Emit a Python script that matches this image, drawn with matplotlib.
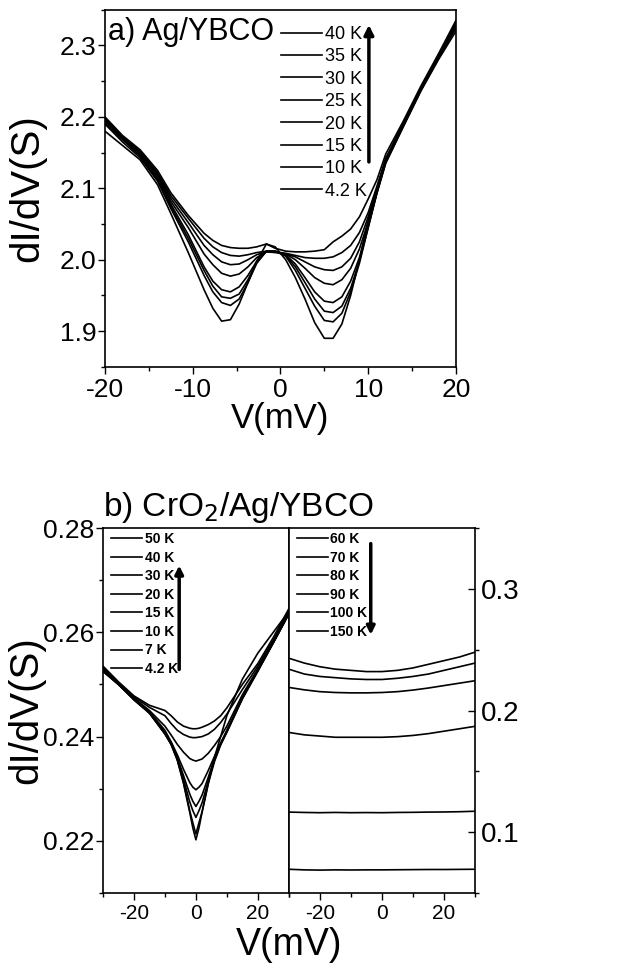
import matplotlib
matplotlib.use("Agg")
import matplotlib.pyplot as plt
from matplotlib.ticker import MultipleLocator

plt.rcParams['font.family'] = ['Liberation Sans', 'DejaVu Sans']
plt.rcParams['axes.unicode_minus'] = False

# ---- panel a) Ag/YBCO ----
va = [-20, -18, -16, -14, -12.5, -10.5, -8.7, -7.7, -6.7, -5.7, -4.7, -3.7, -2.7, -1.6, -0.6, 0.6, 1.7, 2.8, 3.9,
      5, 6, 7, 8, 9, 10, 11, 12, 14, 16, 18, 20]
temps_a = ["40 K", "35 K", "30 K", "25 K", "20 K", "15 K", "10 K", "4.2 K"]
g_40 = [2.200, 2.174, 2.154, 2.125, 2.094, 2.062, 2.037, 2.027, 2.020, 2.017, 2.016, 2.016, 2.018, 2.022, 2.016, 2.012,
        2.011, 2.011, 2.012, 2.014, 2.025, 2.033, 2.043, 2.060, 2.085, 2.112, 2.148, 2.194, 2.243, 2.288, 2.335]
g_35 = [2.198, 2.172, 2.152, 2.122, 2.090, 2.058, 2.030, 2.018, 2.010, 2.006, 2.005, 2.007, 2.010, 2.012, 2.011, 2.009,
        2.006, 2.003, 2.002, 2.002, 2.004, 2.010, 2.020, 2.038, 2.066, 2.103, 2.142, 2.191, 2.240, 2.285, 2.332]
g_30 = [2.196, 2.170, 2.150, 2.120, 2.086, 2.052, 2.020, 2.007, 1.997, 1.993, 1.994, 2.000, 2.007, 2.011, 2.010, 2.008,
        2.004, 1.997, 1.990, 1.986, 1.985, 1.990, 2.002, 2.025, 2.060, 2.099, 2.140, 2.190, 2.240, 2.286, 2.330]
g_25 = [2.198, 2.172, 2.148, 2.118, 2.082, 2.045, 2.008, 1.993, 1.981, 1.977, 1.980, 1.990, 2.003, 2.011, 2.011, 2.008,
        2.000, 1.988, 1.975, 1.967, 1.965, 1.972, 1.988, 2.015, 2.053, 2.096, 2.138, 2.188, 2.238, 2.284, 2.328]
g_20 = [2.192, 2.168, 2.146, 2.115, 2.078, 2.035, 1.990, 1.970, 1.958, 1.955, 1.962, 1.978, 1.998, 2.012, 2.012, 2.007,
        1.994, 1.975, 1.955, 1.942, 1.940, 1.948, 1.970, 2.003, 2.048, 2.094, 2.136, 2.187, 2.237, 2.282, 2.325]
g_15 = [2.195, 2.170, 2.145, 2.112, 2.075, 2.030, 1.985, 1.963, 1.948, 1.946, 1.952, 1.972, 1.996, 2.012, 2.012, 2.006,
        1.990, 1.968, 1.945, 1.928, 1.926, 1.935, 1.960, 1.998, 2.045, 2.093, 2.135, 2.186, 2.236, 2.280, 2.320]
g_10 = [2.190, 2.165, 2.143, 2.110, 2.072, 2.025, 1.978, 1.955, 1.940, 1.936, 1.945, 1.968, 1.995, 2.012, 2.012, 2.005,
        1.985, 1.960, 1.935, 1.915, 1.913, 1.925, 1.955, 1.995, 2.045, 2.095, 2.138, 2.188, 2.238, 2.282, 2.325]
g_4 = [2.180, 2.160, 2.140, 2.105, 2.065, 2.010, 1.958, 1.932, 1.914, 1.916, 1.938, 1.968, 1.998, 2.022, 2.018, 2.000,
       1.975, 1.945, 1.912, 1.890, 1.890, 1.910, 1.950, 2.000, 2.055, 2.100, 2.140, 2.190, 2.240, 2.285, 2.330]
curves_a = [g_40, g_35, g_30, g_25, g_20, g_15, g_10, g_4]

# ---- panel b) CrO2/Ag/YBCO, low temperatures (left axis) ----
vb = [-30, -25, -20, -15, -10, -8, -6, -4, -2, -1, 0, 1, 2, 4, 6, 8, 10, 15, 20, 25, 30]
temps_bl = ["50 K", "40 K", "30 K", "20 K", "15 K", "10 K", "7 K", "4.2 K"]
b_50 = [0.2535, 0.2505, 0.2478, 0.2460, 0.2450, 0.2440, 0.2428, 0.2420, 0.2416, 0.2415, 0.2415, 0.2416, 0.2418,
        0.2423, 0.2430, 0.2440, 0.2455, 0.2500, 0.2540, 0.2590, 0.2645]
b_40 = [0.2532, 0.2503, 0.2476, 0.2456, 0.2440, 0.2425, 0.2412, 0.2404, 0.2399, 0.2398, 0.2398, 0.2399, 0.2400,
        0.2405, 0.2414, 0.2427, 0.2443, 0.2490, 0.2535, 0.2585, 0.2640]
b_30 = [0.2530, 0.2500, 0.2474, 0.2450, 0.2420, 0.2403, 0.2385, 0.2370, 0.2358, 0.2355, 0.2353, 0.2355, 0.2357,
        0.2368, 0.2383, 0.2400, 0.2420, 0.2480, 0.2530, 0.2582, 0.2638]
b_20 = [0.2528, 0.2500, 0.2473, 0.2448, 0.2412, 0.2390, 0.2365, 0.2337, 0.2312, 0.2303, 0.2298, 0.2303, 0.2310,
        0.2335, 0.2362, 0.2388, 0.2412, 0.2475, 0.2528, 0.2580, 0.2636]
b_15 = [0.2527, 0.2500, 0.2472, 0.2446, 0.2408, 0.2388, 0.2360, 0.2325, 0.2290, 0.2276, 0.2266, 0.2276, 0.2288,
        0.2322, 0.2358, 0.2386, 0.2410, 0.2474, 0.2527, 0.2580, 0.2635]
b_10 = [0.2526, 0.2500, 0.2472, 0.2445, 0.2406, 0.2386, 0.2357, 0.2318, 0.2275, 0.2258, 0.2245, 0.2258, 0.2273,
        0.2315, 0.2355, 0.2385, 0.2410, 0.2473, 0.2526, 0.2580, 0.2635]
b_7 = [0.2525, 0.2500, 0.2471, 0.2445, 0.2405, 0.2385, 0.2355, 0.2312, 0.2258, 0.2235, 0.2213, 0.2235, 0.2256,
       0.2310, 0.2352, 0.2384, 0.2408, 0.2472, 0.2525, 0.2580, 0.2635]
b_4 = [0.2525, 0.2500, 0.2470, 0.2445, 0.2405, 0.2385, 0.2355, 0.2310, 0.2255, 0.2225, 0.2202, 0.2225, 0.2255,
       0.2310, 0.2360, 0.2400, 0.2440, 0.2510, 0.2560, 0.2600, 0.2640]
curves_bl = [b_50, b_40, b_30, b_20, b_15, b_10, b_7, b_4]

# ---- panel b) high temperatures (right axis) ----
vc = [-30, -25, -20, -15, -10, -5, 0, 5, 10, 15, 20, 25, 30]
temps_br = ["60 K", "70 K", "80 K", "90 K", "100 K", "150 K"]
c_60 = [0.243, 0.239, 0.236, 0.234, 0.233, 0.232, 0.232, 0.233, 0.235, 0.238, 0.241, 0.244, 0.248]
c_70 = [0.234, 0.230, 0.228, 0.227, 0.226, 0.2255, 0.2255, 0.2265, 0.228, 0.230, 0.233, 0.236, 0.239]
c_80 = [0.219, 0.217, 0.2155, 0.2148, 0.2145, 0.2145, 0.2148, 0.2155, 0.2168, 0.2185, 0.2205, 0.2225, 0.2245]
c_90 = [0.182, 0.180, 0.179, 0.178, 0.178, 0.178, 0.178, 0.1785, 0.1795, 0.181, 0.183, 0.185, 0.187]
c_100 = [0.1165, 0.1162, 0.1160, 0.1162, 0.1160, 0.1161, 0.1160, 0.1162, 0.1163, 0.1165, 0.1166, 0.1168, 0.1172]
c_150 = [0.0695, 0.0690, 0.0688, 0.0690, 0.0689, 0.0690, 0.0690, 0.0691, 0.0692, 0.0693, 0.0693, 0.0694, 0.0695]
curves_br = [c_60, c_70, c_80, c_90, c_100, c_150]

fig = plt.figure(figsize=(6.17, 9.68), dpi=100)


def style_axis(ax, size):
    ax.tick_params(which='both', direction='out', width=1, labelsize=size, pad=1)
    ax.tick_params(which='major', length=5)
    ax.tick_params(which='minor', length=3)
    for s in ax.spines.values():
        s.set_linewidth(1.2)


# panel a
ax1 = fig.add_axes([0.170, 0.621, 0.569, 0.369])
for g, lab in zip(curves_a, temps_a):
    ax1.plot(va, g, color='k', lw=1.2, label=lab)
ax1.set_xlim(-20, 20)
ax1.set_ylim(1.85, 2.35)
ax1.xaxis.set_major_locator(MultipleLocator(10))
ax1.xaxis.set_minor_locator(MultipleLocator(5))
ax1.yaxis.set_major_locator(MultipleLocator(0.1))
ax1.yaxis.set_minor_locator(MultipleLocator(0.05))
ax1.yaxis.set_major_formatter(lambda v, p: f"{v:.1f}")
style_axis(ax1, 19)
ax1.tick_params(axis='x', pad=3)
ax1.set_xlabel("V(mV)", fontsize=25, labelpad=0)
ax1.set_ylabel("dI/dV(S)", fontsize=29)
ax1.yaxis.set_label_coords(-0.168, 0.5)
ax1.text(0.01, 0.98, "a) Ag/YBCO", transform=ax1.transAxes, fontsize=22, va='top', ha='left')
ax1.legend(loc='upper left', bbox_to_anchor=(0.47, 0.985), frameon=False, fontsize=13,
           handlelength=2.3, handletextpad=0.15, labelspacing=0.3, borderpad=0.1)
ax1.annotate('', xy=(0.752, 0.965), xytext=(0.752, 0.566), xycoords='axes fraction',
             arrowprops=dict(arrowstyle='-|>', lw=2.5, color='k', mutation_scale=14))

# panel b, left
ax2 = fig.add_axes([0.167, 0.0775, 0.301, 0.377])
for g, lab in zip(curves_bl, temps_bl):
    ax2.plot(vb, g, color='k', lw=1.2, label=lab)
ax2.set_xlim(-30, 30)
ax2.set_ylim(0.21, 0.28)
ax2.xaxis.set_major_locator(MultipleLocator(20))
ax2.xaxis.set_minor_locator(MultipleLocator(10))
ax2.yaxis.set_major_locator(MultipleLocator(0.02))
ax2.yaxis.set_minor_locator(MultipleLocator(0.01))
ax2.yaxis.set_major_formatter(lambda v, p: f"{v:.2f}")
style_axis(ax2, 19)
ax2.tick_params(axis='x', labelsize=15, pad=3)
ax2.set_ylabel("dI/dV(S)", fontsize=29)
ax2.yaxis.set_label_coords(-0.312, 0.5)
ax2.legend(loc='upper left', bbox_to_anchor=(0.0, 1.012), frameon=False,
           prop=dict(size=10, weight='bold'), handlelength=2.2, handletextpad=0.2,
           labelspacing=0.33, borderpad=0.1)
ax2.annotate('', xy=(0.41, 0.905), xytext=(0.41, 0.605), xycoords='axes fraction',
             arrowprops=dict(arrowstyle='-|>', lw=2.5, color='k', mutation_scale=12))
ax2.text(0.0, 1.008, r"b) CrO$_2$/Ag/YBCO", transform=ax2.transAxes, fontsize=24, va='bottom', ha='left')

# panel b, right
ax3 = fig.add_axes([0.468, 0.0775, 0.302, 0.377])
for g, lab in zip(curves_br, temps_br):
    ax3.plot(vc, g, color='k', lw=1.2, label=lab)
ax3.set_xlim(-30, 30)
ax3.set_ylim(0.05, 0.35)
ax3.xaxis.set_major_locator(MultipleLocator(20))
ax3.xaxis.set_minor_locator(MultipleLocator(10))
ax3.yaxis.set_major_locator(MultipleLocator(0.1))
ax3.yaxis.set_minor_locator(MultipleLocator(0.05))
ax3.yaxis.set_major_formatter(lambda v, p: f"{v:.1f}")
ax3.yaxis.tick_right()
style_axis(ax3, 20)
ax3.tick_params(axis='y', direction='in', pad=4)
ax3.tick_params(axis='x', labelsize=15, pad=3)
ax3.legend(loc='upper left', bbox_to_anchor=(0.0, 1.012), frameon=False,
           prop=dict(size=10, weight='bold'), handlelength=2.2, handletextpad=0.2,
           labelspacing=0.33, borderpad=0.1)
ax3.annotate('', xy=(0.44, 0.70), xytext=(0.44, 0.965), xycoords='axes fraction',
             arrowprops=dict(arrowstyle='-|>', lw=2.5, color='k', mutation_scale=12))

fig.text(0.468, 0.005, "V(mV)", fontsize=27, ha='center', va='bottom')

fig.savefig("out.png", dpi=100)
